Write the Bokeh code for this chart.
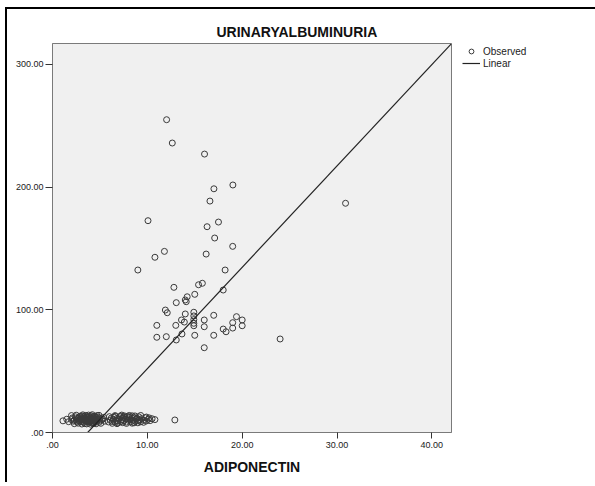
from bokeh.plotting import figure
from bokeh.models import Range1d, FixedTicker, Legend, LegendItem, Title
from bokeh.embed import file_html
from bokeh.resources import INLINE

# ---- data ----
# upper group
X_HIGH = [12.03, 12.63, 16.03, 19.02, 17.02, 16.6, 10.07, 17.5, 16.3, 17.1,
          19.0, 11.8, 10.8, 16.2, 9.0, 18.2, 12.8, 15.4, 15.8, 18.0,
          15.0, 14.2, 14.0, 14.1, 13.05, 11.9, 12.1, 14.0, 14.9, 14.9,
          14.9, 14.9, 14.9, 17.0, 13.6, 13.9, 16.0, 16.0, 19.4, 20.0,
          20.0, 19.0, 19.0, 18.0, 18.3, 11.0, 11.0, 13.0, 12.0, 13.65,
          13.05, 15.0, 17.0, 16.0, 24.0, 30.9]
Y_HIGH = [254.9, 235.9, 226.9, 201.7, 198.6, 188.6, 172.6, 171.5, 167.7, 158.5,
          151.7, 147.6, 142.8, 145.4, 132.4, 132.4, 118.3, 120.4, 121.6, 116.1,
          112.6, 110.6, 108.0, 106.6, 105.8, 99.8, 97.6, 96.6, 98.0, 95.0,
          92.0, 89.0, 87.0, 95.5, 91.7, 90.0, 91.7, 86.2, 94.4, 91.7,
          87.0, 89.5, 85.1, 84.3, 82.1, 87.3, 77.6, 87.3, 78.1, 80.3,
          75.4, 79.2, 79.2, 69.1, 76.2, 186.8]
# lower cluster, first group
X_LOW_A = [1.1, 1.7, 2.0, 2.2, 2.4, 2.5, 2.6, 2.7, 2.8, 2.9, 3.0, 3.0, 3.1, 3.2,
           3.3, 3.3, 3.4, 3.5, 3.5, 3.6, 3.7, 3.7, 3.8, 3.9, 3.9, 4.0, 4.0, 4.1,
           4.2, 4.2, 4.3, 4.3, 4.4, 4.5, 4.5, 4.6, 4.7, 4.8, 4.9, 5.0, 5.0, 5.2,
           5.4, 5.5, 1.5, 2.1, 2.3, 3.6, 4.1, 2.6,
           2.0, 2.3, 2.5, 2.7, 2.9, 3.1, 3.2, 3.4, 3.5, 3.6, 3.8, 3.9, 4.0, 4.1,
           4.2, 4.3, 4.4, 4.5, 4.6, 4.7, 4.8, 4.9, 5.1, 5.3, 3.0, 3.3, 3.7, 4.0,
           4.4, 2.8, 3.5, 4.2, 4.6, 3.9, 3.1]
Y_LOW_A = [9.5, 8.8, 10.5, 9.2, 12.8, 10.0, 8.5, 11.2, 9.6, 10.8, 8.9, 12.0, 10.3, 9.1,
           11.5, 8.2, 10.0, 12.5, 9.4, 10.9, 8.7, 11.8, 9.9, 10.6, 8.4, 12.2, 9.3, 11.0,
           10.1, 8.6, 12.9, 9.7, 11.4, 10.4, 8.9, 12.0, 9.5, 10.9, 8.3, 11.6, 9.9, 10.5,
           12.3, 9.2, 10.8, 11.9, 9.9, 13.4, 7.9, 11.5,
           13.8, 7.2, 14.1, 7.6, 13.3, 6.9, 14.4, 7.3, 13.9, 7.0, 14.2, 12.8, 6.8, 13.6,
           14.5, 7.4, 13.1, 12.9, 7.1, 13.8, 12.5, 14.0, 7.5, 10.9, 11.0, 13.0, 9.0, 10.6,
           7.8, 12.2, 11.2, 12.0, 10.2, 9.4, 13.5]
# lower cluster, second group
X_LOW_B = [5.9, 6.1, 6.2, 6.3, 6.4, 6.5, 6.6, 6.7, 6.8, 6.9, 7.0, 7.1, 7.2, 7.3, 7.4,
           7.5, 7.6, 7.7, 7.8, 7.9, 8.0, 8.1, 8.2, 8.3, 8.4, 8.5, 8.6, 8.7, 8.8, 8.9,
           9.0, 9.1, 9.2, 9.3, 9.4, 9.6, 9.8, 9.9, 10.1, 10.3, 10.5, 10.8, 6.6, 7.4,
           8.4, 12.9,
           6.0, 6.3, 6.6, 6.9, 7.2, 7.5, 7.8, 8.1, 8.4, 8.7, 9.0, 9.3, 9.6, 9.9,
           10.2, 6.8, 7.3, 7.9, 8.6, 9.1]
Y_LOW_B = [8.6, 10.2, 11.8, 9.0, 10.7, 12.4, 8.4, 10.0, 11.5, 9.3, 10.9, 12.9, 8.8, 10.4, 11.9,
           9.6, 13.5, 10.8, 8.5, 11.2, 9.9, 12.6, 10.3, 8.9, 11.7, 10.0, 12.2, 9.2, 10.9, 11.6,
           9.5, 12.8, 10.5, 8.7, 11.3, 10.1, 12.0, 9.4, 10.8, 9.7, 11.2, 10.5, 13.2, 8.0,
           13.6, 10.2,
           12.9, 7.5, 13.8, 7.8, 13.4, 12.7, 7.4, 13.9, 7.6, 13.5, 7.9, 13.9, 8.3, 12.6,
           11.9, 7.2, 14.2, 13.1, 7.9, 10.1]

LINEAR_INTERCEPT = -30.6
LINEAR_SLOPE = 8.26

X_RANGE = (0.0, 42.07)
Y_RANGE = (0.0, 317.0)
X_TICKS = [0, 10, 20, 30, 40]
X_TICK_LABELS = [".00", "10.00", "20.00", "30.00", "40.00"]
Y_TICKS = [0, 100, 200, 300]
Y_TICK_LABELS = [".00", "100.00", "200.00", "300.00"]

TITLE = "URINARYALBUMINURIA"
X_LABEL = "ADIPONECTIN"

FONT = "Liberation Sans"

xs = X_HIGH + X_LOW_A + X_LOW_B
ys = Y_HIGH + Y_LOW_A + Y_LOW_B

p = figure(frame_width=399, frame_height=389, output_backend="svg",
           toolbar_location=None,
           x_range=Range1d(*X_RANGE), y_range=Range1d(*Y_RANGE),
           min_border_left=45, min_border_right=142, min_border_top=34,
           min_border_bottom=52)
p.styles = {"margin-left": "7px", "margin-top": "9px",
            "box-shadow": "-2px -2px 0px 0px #000000"}

p.background_fill_color = "#f0f0f0"
p.border_fill_color = "white"
p.outline_line_color = "#7a7a7a"
p.outline_line_width = 1
p.grid.visible = False

p.add_layout(Title(text=TITLE, align="left", offset=164, standoff=8,
                   text_font=FONT, text_font_size="14px", text_font_style="bold",
                   text_color="#111111"), "above")

for ax in (p.xaxis[0], p.yaxis[0]):
    ax.axis_line_color = "#7a7a7a"
    ax.major_tick_line_color = "#333333"
    ax.major_tick_in = 0
    ax.minor_tick_line_color = None
    ax.major_label_text_font = FONT
    ax.major_label_text_font_size = "9px"
    ax.major_label_text_color = "#1a1a1a"

p.xaxis[0].major_tick_out = 6
p.yaxis[0].major_tick_out = 7
p.xaxis[0].ticker = FixedTicker(ticks=X_TICKS)
p.xaxis[0].major_label_overrides = dict(zip(X_TICKS, X_TICK_LABELS))
p.yaxis[0].ticker = FixedTicker(ticks=Y_TICKS)
p.yaxis[0].major_label_overrides = dict(zip(Y_TICKS, Y_TICK_LABELS))
p.xaxis[0].major_label_standoff = 3
p.yaxis[0].major_label_standoff = 2
p.xaxis[0].axis_label = X_LABEL
p.xaxis[0].axis_label_text_font = FONT
p.xaxis[0].axis_label_text_font_size = "14px"
p.xaxis[0].axis_label_text_font_style = "bold"
p.xaxis[0].axis_label_text_color = "#111111"
p.xaxis[0].axis_label_standoff = 8

pts = p.scatter(xs, ys, marker="circle", size=6, fill_color=None,
                line_color="#3a3a3a", line_width=1)

lx = [X_RANGE[0], X_RANGE[1]]
ly = [LINEAR_INTERCEPT + LINEAR_SLOPE * v for v in lx]
ln = p.line(lx, ly, line_color="#222222", line_width=1.2)

legend = Legend(items=[LegendItem(label="Observed", renderers=[pts]),
                       LegendItem(label="Linear", renderers=[ln])],
                location=(11, 363), padding=0, margin=0, spacing=0,
                glyph_width=18, glyph_height=12, label_height=12,
                label_standoff=3, label_text_font=FONT,
                label_text_font_size="10px", label_text_color="#222222",
                border_line_alpha=0, background_fill_alpha=0)
p.add_layout(legend, "right")

open("out.html", "w").write(file_html(p, INLINE))
